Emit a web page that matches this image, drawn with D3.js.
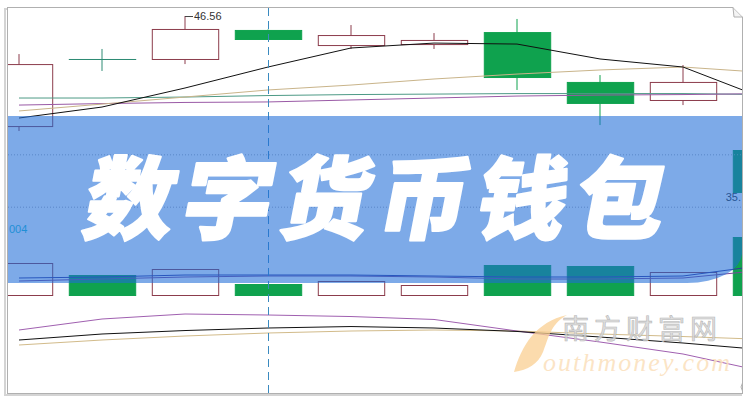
<!DOCTYPE html>
<html><head><meta charset="utf-8">
<script src="https://cdn.jsdelivr.net/npm/d3@7/dist/d3.min.js"></script>
<style>html,body{margin:0;padding:0;background:#fff;}svg{display:block;}</style>
</head><body>
<svg id="c" width="750" height="400"></svg>
<script>
// ---- data ----
const days   = ["D1","D2","D3","D4","D5","D6","D7","D8","D9","D10"];
const open   = [39.85, 43.94, 43.94, 45.71, 44.79, 44.85, 45.58, 42.54, 41.44, 38.39];
const high   = [44.24, 44.55, 46.56, 45.74, 46.01, 45.52, 46.38, 42.96, 43.57, 39.00];
const low    = [39.55, 43.21, 43.63, 45.14, 44.55, 44.55, 42.05, 39.91, 41.13, 35.52];
const close  = [43.63, 43.94, 45.77, 45.16, 45.40, 45.10, 42.84, 41.26, 42.54, 35.83];
const maBlack  = [40.34, 41.01, 42.17, 43.45, 44.61, 44.91, 44.85, 43.94, 43.45, 41.50];
const maTan    = [40.77, 41.19, 41.62, 42.05, 42.35, 42.72, 43.02, 43.27, 43.45, 43.11];
const maGreen  = [41.56, 41.56, 41.62, 41.71, 41.77, 41.80, 41.83, 41.83, 41.83, 41.77];
const maPurple = [41.13, 41.22, 41.29, 41.32, 41.44, 41.56, 41.68, 41.74, 41.77, 41.83];
const priceGrid = [38.1, 34.9];
const volume   = [32, 20, 26, 11, 14, 10, 30, 29, 23, 58];
const volMaA   = [17, 18, 20, 20, 20, 19, 18, 18, 19, 30];
const volMaB   = [14, 16, 18, 19, 19, 18, 16, 16, 17, 25];
const kLine    = [57.5, 65.75, 69.5, 68.75, 67.6, 65.4, 56.75, 48.5, 39.5, 26];
const dLine    = [50, 54.5, 57.1, 59, 60.1, 59, 56.4, 52.25, 47.75, 42.5];
const jLine    = [46.25, 50, 53, 55.25, 56.75, 57.5, 56.75, 54.5, 52.6, 50.4];
const highLabel = "46.56";
const lowLabel  = "35.";      // only this part is visible inside the frame
const volLabel  = "004";
const title = "数字货币钱包";
const wmCn = "南方财富网";
const wmEn = "outhmoney.com";

// ---- layout ----
const svg = d3.select("#c");
const F = {x0: 8, x1: 742, y0: 8, y1: 393};
const x = d3.scalePoint().domain(days).range([-22.5, 807.5]).padding(0.5);
const bodyW = x.step() * 0.8;
const yP = d3.scaleLinear().domain([35, 47]).range([205.6, 8.8]);
const yV = d3.scaleLinear().domain([0, 60]).range([295, 235]);
const yK = d3.scaleLinear().domain([20, 80]).range([380, 300]);

const C = {up: "#8c3c4c", down: "#0fa24e", doji: "#2e8b74"};

svg.append("defs").append("clipPath").attr("id", "fr")
  .append("rect").attr("x", F.x0).attr("y", F.y0).attr("width", F.x1 - F.x0).attr("height", F.y1 - F.y0);

// frame shadow + border
svg.append("rect").attr("x", 5).attr("y", 9).attr("width", F.x1 - 6).attr("height", F.y1 - 7)
  .attr("fill", "none").attr("stroke", "#d4d4d4").attr("stroke-width", 2);
svg.append("rect").attr("x", F.x0 - 0.5).attr("y", F.y0 - 0.5).attr("width", F.x1 - F.x0 + 1).attr("height", F.y1 - F.y0 + 1)
  .attr("fill", "#fff").attr("stroke", "#b0b0b0");

const g = svg.append("g").attr("clip-path", "url(#fr)");

// grid
g.selectAll(".grid").data(priceGrid).join("line")
  .attr("x1", F.x0).attr("x2", F.x1).attr("y1", d => yP(d)).attr("y2", d => yP(d))
  .attr("stroke", "#9fb0c8").attr("stroke-dasharray", "1,2");

// price candles
const idx = d3.range(days.length);
g.selectAll(".wick").data(idx).join("line")
  .attr("x1", i => x(days[i])).attr("x2", i => x(days[i]))
  .attr("y1", i => yP(high[i])).attr("y2", i => yP(low[i]))
  .attr("stroke", i => close[i] > open[i] ? C.up : (close[i] < open[i] ? C.down : C.doji));
g.selectAll(".body").data(idx).join("rect")
  .attr("x", i => x(days[i]) - bodyW / 2 + 0.5).attr("width", bodyW)
  .attr("y", i => yP(Math.max(open[i], close[i])) + 0.5)
  .attr("height", i => Math.max(0.01, Math.abs(yP(open[i]) - yP(close[i]))))
  .attr("fill", i => close[i] > open[i] ? "#fff" : (close[i] < open[i] ? C.down : "none"))
  .attr("stroke", i => close[i] > open[i] ? C.up : (close[i] < open[i] ? C.down : C.doji));

// high / low labels
const hi = high.indexOf(d3.max(high)), lo = low.indexOf(d3.min(low));
g.append("line").attr("x1", x(days[hi])).attr("x2", x(days[hi]) + 8)
  .attr("y1", yP(high[hi]) + 0.5).attr("y2", yP(high[hi]) + 0.5).attr("stroke", "#444");
g.append("text").attr("x", x(days[hi]) + 9).attr("y", yP(high[hi]) + 4)
  .attr("font-family", "Liberation Sans, Arial, sans-serif").attr("font-size", 11).attr("fill", "#333").text(highLabel);

// MA lines (price)
const lineP = d3.line().x((d, i) => x(days[i])).y(d => yP(d));
[[maGreen, "#4d9a86"], [maPurple, "#9a5aa6"], [maTan, "#c9b48a"], [maBlack, "#111"]].forEach(([a, c]) =>
  g.append("path").attr("d", lineP(a)).attr("fill", "none").attr("stroke", c).attr("stroke-width", 1));

// volume bars
g.selectAll(".vol").data(idx).join("rect")
  .attr("x", i => x(days[i]) - bodyW / 2 + 0.5).attr("width", bodyW)
  .attr("y", i => yV(volume[i]) + 0.5).attr("height", i => yV(0) - yV(volume[i]))
  .attr("fill", i => close[i] > open[i] ? "#fff" : C.down)
  .attr("stroke", i => close[i] > open[i] ? C.up : C.down);
const lineV = d3.line().x((d, i) => x(days[i])).y(d => yV(d));
[[volMaB, "#7a4a9a"], [volMaA, "#33389a"]].forEach(([a, c]) =>
  g.append("path").attr("d", lineV(a)).attr("fill", "none").attr("stroke", c));

// indicator lines
const lineK = d3.line().x((d, i) => x(days[i])).y(d => yK(d));
[[jLine, "#d2bb8a"], [kLine, "#a060b0"], [dLine, "#111"]].forEach(([a, c]) =>
  g.append("path").attr("d", lineK(a)).attr("fill", "none").attr("stroke", c));

// dashed cursor line
g.append("line").attr("x1", x(days[3]) + 0.5).attr("x2", x(days[3]) + 0.5).attr("y1", F.y0).attr("y2", F.y1)
  .attr("stroke", "#3a8ac0").attr("stroke-dasharray", "8,5");

// low label (the visible part, at the right edge)
g.append("text").attr("x", F.x1 - 1).attr("y", yP(low[lo]) + 4).attr("text-anchor", "end")
  .attr("font-family", "Liberation Sans, Arial, sans-serif").attr("font-size", 11).attr("fill", "#333").text(lowLabel);

// banner
const B = {x0: F.x0, x1: F.x1, y0: 116, y1: 283, rx: 55, ry: 30};
g.append("path")
  .attr("d", `M${B.x0},${B.y0}H${B.x1}V${B.y1 - B.ry}A${B.rx},${B.ry} 0 0 1 ${B.x1 - B.rx},${B.y1}H${B.x0}Z`)
  .attr("fill", "rgb(31,109,216)").attr("fill-opacity", 0.58);
g.selectAll(".grid2").data(priceGrid).join("line")
  .attr("x1", F.x0).attr("x2", F.x1).attr("y1", d => yP(d)).attr("y2", d => yP(d))
  .attr("stroke", "#6d93cc").attr("stroke-dasharray", "1,2").attr("stroke-opacity", 0.6);

g.append("text").attr("x", 9).attr("y", 233)
  .attr("font-family", "Liberation Sans, Arial, sans-serif").attr("font-size", 11).attr("fill", "#1f8fd6").text(volLabel);

// title
g.append("g").attr("transform", "translate(80,232) skewX(-11)")
  .append("text").attr("x", 0).attr("y", 0)
  .attr("font-family", "'Noto Sans CJK SC', sans-serif").attr("font-weight", 900)
  .attr("font-size", 90).attr("letter-spacing", 8).attr("fill", "#fff")
  .attr("stroke", "#fff").attr("stroke-width", 2.2).attr("stroke-linejoin", "round").text(title);

// watermark
const W = svg.append("g").attr("clip-path", "url(#fr)");
W.append("path").attr("d", "M514,372 C522,345 536,322 567,315 C550,324 548,340 543,352 C538,364 528,370 514,372 Z")
  .attr("fill", "#f9cf92").attr("fill-opacity", 0.75);
W.append("text").attr("x", 562).attr("y", 339)
  .attr("font-family", "'Noto Sans CJK SC', sans-serif").attr("font-size", 27).attr("letter-spacing", 5)
  .attr("fill", "#d6d6d6").attr("stroke", "#b8b8b8").attr("stroke-width", 0.6).attr("fill-opacity", 0.8).text(wmCn);
W.append("text").attr("x", 543).attr("y", 371)
  .attr("font-family", "'Liberation Serif', serif").attr("font-style", "italic").attr("font-size", 26)
  .attr("textLength", 187).attr("fill", "#fbe0bb").attr("fill-opacity", 0.85).text(wmEn);

// folded corners
svg.append("path").attr("d", `M${F.x1 - 9},${F.y0 - 0.5} L${F.x1 + 0.5},${F.y0 + 9} L${F.x1 - 8},${F.y0 + 9} Z`)
  .attr("fill", "#f4f4f4").attr("stroke", "#b0b0b0");
svg.append("path").attr("d", `M${F.x1 - 9},${F.y0 - 1} L${F.x1 + 1},${F.y0 - 1} L${F.x1 + 1},${F.y0 + 9} Z`)
  .attr("fill", "#fff");
svg.append("path").attr("d", `M${F.x1 + 0.5},${F.y1 - 10} q-3,4 0,8`).attr("fill", "none").attr("stroke", "#b0b0b0");
</script>
</body></html>
